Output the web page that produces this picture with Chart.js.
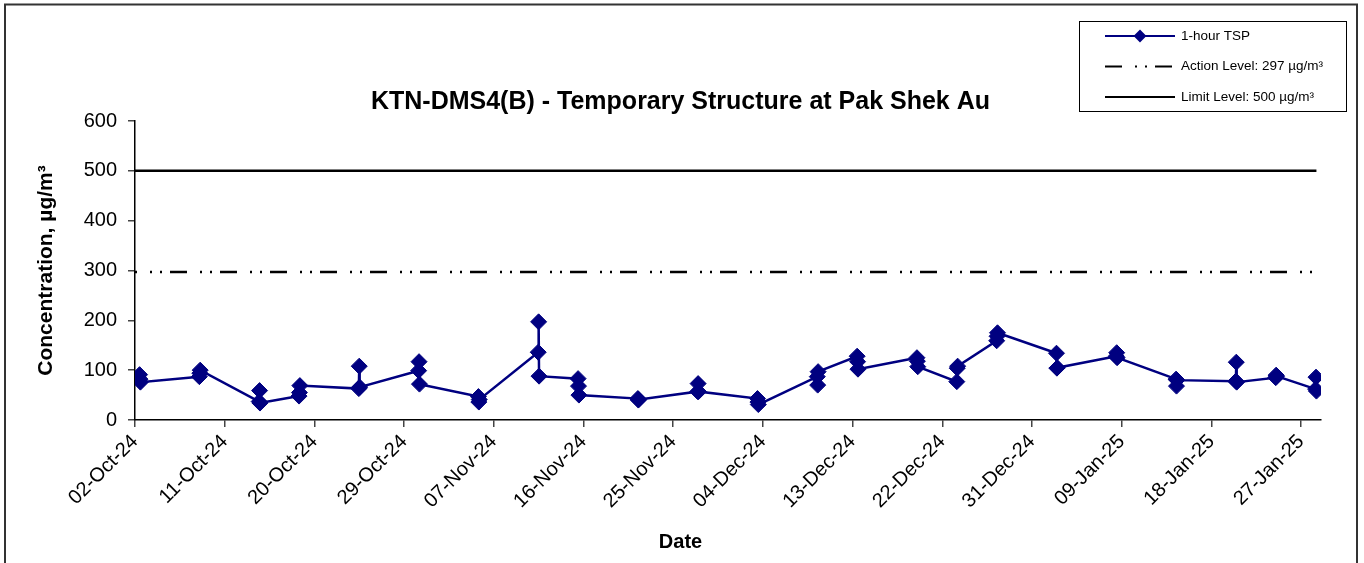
<!DOCTYPE html>
<html>
<head>
<meta charset="utf-8">
<title>KTN-DMS4(B) - 1-hour TSP</title>
<script src="https://cdn.jsdelivr.net/npm/chart.js@4.4.1/dist/chart.umd.min.js"></script>
<style>
  html, body { margin: 0; padding: 0; background: #fff; }
  canvas { display: block; }
</style>
</head>
<body>
<canvas id="tspChart" width="1364" height="563"></canvas>
<script>
// Sampling days; three consecutive 1-hour TSP readings were taken on each
const sampleDates = [
    '02-Oct-24', '08-Oct-24', '14-Oct-24', '18-Oct-24', '24-Oct-24', '30-Oct-24',
    '05-Nov-24', '11-Nov-24', '15-Nov-24', '21-Nov-24', '27-Nov-24',
    '03-Dec-24', '09-Dec-24', '13-Dec-24', '19-Dec-24', '23-Dec-24', '27-Dec-24',
    '02-Jan-25', '08-Jan-25', '14-Jan-25', '20-Jan-25', '24-Jan-25', '28-Jan-25'
];
const sampleHours = [11, 12, 13];
const reading1 = [91, 87, 37, 48, 63, 99, 47, 136, 83, 43, 57, 43, 87, 128, 125, 77, 159, 134, 128, 82, 78, 85, 62];
const reading2 = [82, 94, 59, 55, 108, 117, 36, 197, 68, 40, 73, 36, 70, 117, 118, 104, 168, 104, 135, 68, 116, 90, 86];
const reading3 = [76, 100, 34, 69, 66, 72, 41, 88, 50, 41, 57, 31, 97, 102, 107, 108, 175, 105, 125, 80, 76, 88, 58];

const actionLevel = 297;
const limitLevel = 500;

const tickLabels = [
    '02-Oct-24', '11-Oct-24', '20-Oct-24', '29-Oct-24', '07-Nov-24', '16-Nov-24', '25-Nov-24',
    '04-Dec-24', '13-Dec-24', '22-Dec-24', '31-Dec-24', '09-Jan-25', '18-Jan-25', '27-Jan-25'
];
const axisEnd = '29-Jan-25';

const MONTHS = ['Jan', 'Feb', 'Mar', 'Apr', 'May', 'Jun', 'Jul', 'Aug', 'Sep', 'Oct', 'Nov', 'Dec'];

// days since the first axis date, from a 'DD-Mon-YY' string
function dayOf(label) {
    const [d, m, y] = label.split('-');
    const t = Date.UTC(2000 + parseInt(y, 10), MONTHS.indexOf(m), parseInt(d, 10));
    const [d0, m0, y0] = tickLabels[0].split('-');
    const t0 = Date.UTC(2000 + parseInt(y0, 10), MONTHS.indexOf(m0), parseInt(d0, 10));
    return (t - t0) / 86400000;
}

const readings = [reading1, reading2, reading3];
const tspPoints = [];
sampleDates.forEach((date, i) => {
    readings.forEach((series, k) => {
        tspPoints.push({ x: dayOf(date) + sampleHours[k] / 24, y: series[i] });
    });
});

const levelStart = dayOf(tickLabels[0]);
const levelEnd = tspPoints[tspPoints.length - 1].x;

Chart.defaults.font.family = '"Liberation Sans", Arial, sans-serif';
Chart.defaults.color = '#000';

/**
 * Outer chart frame.
 */
const chartFrame = {
    id: 'chartFrame',
    beforeDraw(chart) {
        const ctx = chart.ctx;
        ctx.save();
        ctx.fillStyle = '#fff';
        ctx.fillRect(0, 0, chart.width, chart.height);
        ctx.strokeStyle = '#333';
        ctx.lineWidth = 2;
        ctx.strokeRect(5, 4.5, 1352, 620);
        ctx.restore();
    }
};

/**
 * Boxed legend in the top right corner, one row per dataset.
 */
const legendBox = {
    id: 'legendBox',
    afterDraw(chart) {
        const ctx = chart.ctx;
        const left = 1079, top = 21, width = 267, height = 90;
        ctx.save();
        ctx.fillStyle = '#fff';
        ctx.fillRect(left, top, width, height);
        ctx.strokeStyle = '#000';
        ctx.lineWidth = 1;
        ctx.strokeRect(left + 0.5, top + 0.5, width, height);

        chart.data.datasets.forEach((ds, i) => {
            const y = top + 15 + i * 30.5;
            ctx.beginPath();
            ctx.strokeStyle = ds.borderColor;
            ctx.lineWidth = 2;
            ctx.setLineDash(ds.borderDash || []);
            ctx.lineDashOffset = 0;
            ctx.moveTo(1105, y);
            ctx.lineTo(1175, y);
            ctx.stroke();
            ctx.setLineDash([]);
            if (ds.pointRadius > 0) {
                ctx.fillStyle = ds.pointBackgroundColor;
                ctx.strokeStyle = ds.pointBorderColor;
                Chart.helpers.drawPoint(ctx, { pointStyle: ds.pointStyle, radius: 5, borderWidth: 1 }, 1140, y);
            }
            ctx.fillStyle = '#000';
            ctx.font = '13.5px "Liberation Sans", Arial, sans-serif';
            ctx.textBaseline = 'middle';
            ctx.fillText(ds.label, 1181, y);
        });
        ctx.restore();
    }
};

const ctx = document.getElementById('tspChart').getContext('2d');
const tspChart = new Chart(ctx, {
    type: 'line',
    data: {
        datasets: [{
            label: '1-hour TSP',
            data: tspPoints,
            borderColor: '#000080',
            backgroundColor: '#000080',
            borderWidth: 2.5,
            pointStyle: 'rectRot',
            pointRadius: 8,
            pointBackgroundColor: '#000080',
            pointBorderColor: '#000080',
            pointBorderWidth: 1,
            tension: 0
        }, {
            label: 'Action Level: 297 µg/m³',
            data: [{ x: levelStart, y: actionLevel }, { x: levelEnd, y: actionLevel }],
            borderColor: '#000',
            borderWidth: 2.5,
            borderDash: [17, 13, 2, 8, 2, 8],
            borderDashOffset: 15,
            pointRadius: 0
        }, {
            label: 'Limit Level: 500 µg/m³',
            data: [{ x: levelStart, y: limitLevel }, { x: levelEnd, y: limitLevel }],
            borderColor: '#000',
            borderWidth: 2.5,
            pointRadius: 0
        }]
    },
    options: {
        responsive: false,
        animation: false,
        devicePixelRatio: 1,
        layout: {
            padding: { left: 40, right: 43, top: 0, bottom: 0 }
        },
        plugins: {
            legend: { display: false },
            tooltip: { enabled: false },
            title: {
                display: true,
                text: 'KTN-DMS4(B) - Temporary Structure at Pak Shek Au',
                font: { size: 25, weight: 'bold' },
                color: '#000',
                padding: { top: 87, bottom: 4 }
            },
            subtitle: {
                display: true,
                position: 'bottom',
                text: 'Date',
                font: { size: 20, weight: 'bold' },
                color: '#000',
                padding: { top: 10, bottom: 9 }
            }
        },
        scales: {
            x: {
                type: 'linear',
                min: dayOf(tickLabels[0]),
                max: dayOf(axisEnd),
                afterBuildTicks: (scale) => {
                    scale.ticks = tickLabels.map(l => ({ value: dayOf(l) }));
                },
                afterFit: (scale) => { scale.height = 100; },
                ticks: {
                    autoSkip: false,
                    maxRotation: 45,
                    minRotation: 45,
                    padding: 3,
                    font: { size: 20 },
                    color: '#000',
                    callback: (value, index) => tickLabels[index]
                },
                grid: { drawOnChartArea: false, tickLength: 7, color: '#444', lineWidth: 1.5 },
                border: { color: '#000', width: 1.5 }
            },
            y: {
                min: 0,
                max: 600,
                afterFit: (scale) => { scale.width = 95; },
                ticks: {
                    stepSize: 100,
                    padding: 11,
                    font: { size: 20 },
                    color: '#000'
                },
                grid: { drawOnChartArea: false, tickLength: 7, color: '#444', lineWidth: 1.5 },
                border: { color: '#000', width: 1.5 },
                title: {
                    display: true,
                    text: 'Concentration, µg/m³',
                    font: { size: 21, weight: 'bold' },
                    color: '#000',
                    padding: { top: -6, bottom: 0 }
                }
            }
        }
    },
    plugins: [chartFrame, legendBox]
});
</script>
</body>
</html>
